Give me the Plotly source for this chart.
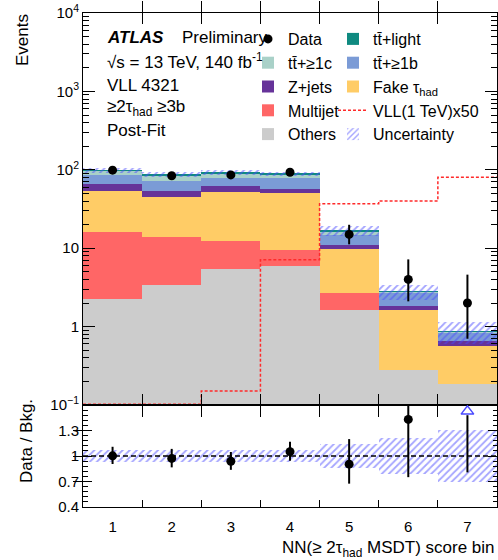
import plotly.graph_objects as go

# ---------------- data ----------------
bins = [1, 2, 3, 4, 5, 6, 7]
bin_labels = ["1", "2", "3", "4", "5", "6", "7"]

others   = [2.28, 3.36, 5.45, 6.00, 1.65, 0.276, 0.187]
multijet = [13.8, 10.4, 6.95, 3.55, 1.06, 0.0, 0.0]
fake_tau = [38.0, 30.7, 39.1, 41.0, 7.02, 1.34, 0.373]
z_jets   = [12.1, 8.5, 10.9, 6.2, 1.17, 0.20, 0.087]
tt_1b    = [19.9, 20.0, 17.3, 21.5, 3.9, 0.93, 0.20]
tt_1c    = [11.5, 12.3, 10.6, 8.7, 1.3, 0.03, 0.01]
tt_light = [1.2, 1.2, 1.3, 1.5, 0.5, 0.02, 0.01]
bkg_rel_unc = [0.07, 0.07, 0.07, 0.07, 0.14, 0.21, 0.31]

data        = [99, 84, 86, 93, 15, 4, 2]
data_err_up = [10.5, 9.7, 9.9, 10.2, 4.9, 3.2, 2.6]
data_err_dn = [9.5, 9.1, 9.3, 9.6, 3.8, 1.9, 1.3]

vll_x50 = [0.102, 0.102, 0.151, 7.14, 37.0, 40.1, 80.4]

y_tickvals = [0.1, 1, 10, 100, 1000, 10000]
y_ticktext = ["10<sup>−1</sup>", "1", "10", "10<sup>2</sup>", "10<sup>3</sup>", "10<sup>4</sup>"]
r_tickvals = [0.4, 0.7, 1.0, 1.3]
r_ticktext = ["0.4", "0.7", "1", "1.3"]
r_range = [0.4, 1.6]
r_minor_step = 0.06

# ---------------- styling ----------------
FONT = "Liberation Sans, Arial, Helvetica, sans-serif"
W, H = 498, 560
ML, MR, MT, MB = 83, 1, 13, 53
PW, PH = W - ML - MR, H - MT - MB


def px(x):
    return (x - ML) / PW


def py(y):
    return (H - MB - y) / PH


split = py(405)
HATCH = "#4a4aff"
PATTERN = dict(shape="/", fgcolor=HATCH, bgcolor="rgba(0,0,0,0)", size=5, solidity=0.35)

fig = go.Figure()

stack = [
    ("Others", others, "#cccccc", "legend", 5),
    ("Multijet", multijet, "#ff6666", "legend", 4),
    ("Fake τ<sub>had</sub>", fake_tau, "#ffcc66", "legend2", 3),
    ("Z+jets", z_jets, "#663399", "legend", 3),
    ("tt̄+≥1b", tt_1b, "#7b9bd6", "legend2", 2),
    ("tt̄+≥1c", tt_1c, "#a9d1c8", "legend", 2),
    ("tt̄+light", tt_light, "#0f8a80", "legend2", 1),
]
floor = 1e-3
base = [floor] * len(bins)
for name, vals, color, lg, rank in stack:
    fig.add_trace(go.Bar(
        x=bins, y=vals, base=list(base), width=1, name=name,
        marker=dict(color=color, line=dict(width=0)),
        legend=lg, legendrank=rank, xaxis="x", yaxis="y"))
    base = [b + v for b, v in zip(base, vals)]

total = [sum(c) for c in zip(others, multijet, fake_tau, z_jets, tt_1b, tt_1c, tt_light)]

# uncertainty band (main)
fig.add_trace(go.Bar(
    x=bins, y=[2 * t * e for t, e in zip(total, bkg_rel_unc)],
    base=[t * (1 - e) for t, e in zip(total, bkg_rel_unc)], width=1,
    name="Uncertainty", legend="legend2", legendrank=5,
    marker=dict(color="rgba(0,0,0,0)", line=dict(width=0), pattern=PATTERN),
    xaxis="x", yaxis="y"))

# VLL signal (step)
edges = [b - 0.5 for b in bins] + [bins[-1] + 0.5]
fig.add_trace(go.Scatter(
    x=edges, y=vll_x50 + [vll_x50[-1]], mode="lines", line_shape="hv",
    line=dict(color="#ff2a2a", width=1.5, dash="3px,2px"),
    name="VLL(1 TeV)x50", legend="legend2", legendrank=4,
    xaxis="x", yaxis="y"))

# data
fig.add_trace(go.Scatter(
    x=bins, y=data, mode="markers", name="Data", legend="legend", legendrank=1,
    marker=dict(color="black", size=9),
    error_y=dict(type="data", symmetric=False, array=data_err_up,
                 arrayminus=data_err_dn, color="black", thickness=2, width=0),
    xaxis="x", yaxis="y"))

# ---------------- ratio panel ----------------
fig.add_trace(go.Bar(
    x=bins, y=[2 * e for e in bkg_rel_unc], base=[1 - e for e in bkg_rel_unc], width=1,
    showlegend=False,
    marker=dict(color="rgba(0,0,0,0)", line=dict(width=0), pattern=PATTERN),
    xaxis="x2", yaxis="y2"))

ratio = [d / t for d, t in zip(data, total)]
r_up = [u / t for u, t in zip(data_err_up, total)]
r_dn = [u / t for u, t in zip(data_err_dn, total)]
inside = [i for i, r in enumerate(ratio) if r <= r_range[1]]
over = [i for i, r in enumerate(ratio) if r > r_range[1]]

fig.add_trace(go.Scatter(
    x=[bins[i] for i in inside], y=[ratio[i] for i in inside], mode="markers",
    showlegend=False, marker=dict(color="black", size=9),
    error_y=dict(type="data", symmetric=False, array=[r_up[i] for i in inside],
                 arrayminus=[r_dn[i] for i in inside], color="black", thickness=2, width=0),
    xaxis="x2", yaxis="y2"))

# off-scale points: arrow at the top of the ratio panel
arrow_y = r_range[1] - 0.075
fig.add_trace(go.Scatter(
    x=[bins[i] for i in over], y=[arrow_y - 0.045] * len(over), mode="markers",
    showlegend=False, marker=dict(color="rgba(0,0,0,0)", size=1),
    error_y=dict(type="data", symmetric=False, array=[0] * len(over),
                 arrayminus=[arrow_y - 0.045 - (ratio[i] - r_dn[i]) for i in over],
                 color="black", thickness=2, width=0),
    xaxis="x2", yaxis="y2"))
fig.add_trace(go.Scatter(
    x=[bins[i] for i in over], y=[arrow_y] * len(over), mode="markers",
    showlegend=False,
    marker=dict(symbol="triangle-up-open", color=HATCH, size=11, line=dict(width=1.5)),
    xaxis="x2", yaxis="y2"))

fig.add_shape(type="line", xref="x2 domain", yref="y2", x0=0, x1=1, y0=1, y1=1,
              line=dict(color="black", width=1.5, dash="5px,3px"), layer="above")

# empty traces so that the overlay (minor-tick / label) axes get drawn
for xa, ya in [("x", "y3"), ("x3", "y2"), ("x2", "y4")]:
    fig.add_trace(go.Scatter(x=[], y=[], xaxis=xa, yaxis=ya, showlegend=False,
                             hoverinfo="skip"))

# ---------------- axes ----------------
minor_log = [m * 10.0 ** e for e in range(-1, 4) for m in range(2, 10)]
n_minor = int(round((r_range[1] - r_range[0]) / r_minor_step))
minor_ratio = [round(r_range[0] + k * r_minor_step, 4) for k in range(n_minor + 1)]

axis_common = dict(showline=True, linecolor="black", linewidth=1, mirror="allticks",
                   showgrid=False, zeroline=False, ticks="inside", tickcolor="black",
                   tickwidth=1, layer="above traces",
                   tickfont=dict(family=FONT, size=15, color="black"))

fig.update_layout(
    width=W, height=H,
    margin=dict(l=ML, r=MR, t=MT, b=MB),
    paper_bgcolor="white", plot_bgcolor="white",
    barmode="overlay", bargap=0,
    font=dict(family=FONT, size=16, color="black"),
    xaxis=dict(axis_common, domain=[0, 1], anchor="y", range=[0.5, 7.5],
               tickmode="array", tickvals=edges[1:-1], ticklen=11,
               showticklabels=False),
    yaxis=dict(axis_common, domain=[split, 1], anchor="x", type="log", range=[-1, 4],
               tickmode="array", tickvals=y_tickvals, ticktext=y_ticktext, ticklen=12),
    yaxis3=dict(axis_common, overlaying="y", anchor="x", side="left", type="log",
                range=[-1, 4], tickmode="array", tickvals=minor_log, ticklen=6,
                showticklabels=False),
    xaxis2=dict(axis_common, domain=[0, 1], anchor="y2", range=[0.5, 7.5],
                mirror=True, tickmode="array", tickvals=edges[1:-1], ticklen=7,
                showticklabels=False),
    xaxis3=dict(axis_common, overlaying="x2", anchor="y2", side="bottom", range=[0.5, 7.5],
                mirror=False, tickmode="array", tickvals=bins, ticktext=bin_labels,
                ticks="", ticklabelstandoff=6),
    yaxis2=dict(axis_common, domain=[0, split], anchor="x2", range=r_range,
                tickmode="array", tickvals=r_tickvals, ticktext=r_ticktext, ticklen=9),
    yaxis4=dict(axis_common, overlaying="y2", anchor="x2", side="left", range=r_range,
                tickmode="array", tickvals=minor_ratio, ticklen=4.5,
                showticklabels=False),
    legend=dict(x=px(248), y=py(22), xanchor="left", yanchor="top",
                orientation="v", bgcolor="rgba(0,0,0,0)", tracegroupgap=0,
                font=dict(family=FONT, size=16, color="black")),
    legend2=dict(x=px(333), y=py(22), xanchor="left", yanchor="top",
                 orientation="v", bgcolor="rgba(0,0,0,0)", tracegroupgap=0,
                 font=dict(family=FONT, size=16, color="black")),
)

ann = dict(xref="paper", yref="paper", showarrow=False,
           font=dict(family=FONT, size=17, color="black"))
texts = [
    ("<b><i>ATLAS</i></b>", 105, 38),
    ("Preliminary", 180, 38),
    ("√s = 13 TeV, 140 fb<sup>-1</sup>", 105, 61),
    ("VLL 4321", 105, 85),
    ("≥2τ<sub>had</sub> ≥3b", 105, 108),
    ("Post-Fit", 105, 130),
]
for t, x, y in texts:
    fig.add_annotation(ann, text=t, x=px(x), y=py(y), xanchor="left", yanchor="middle")

fig.add_annotation(ann, text="Events", textangle=-90, x=px(23), y=py(12),
                   xanchor="center", yanchor="top")
fig.add_annotation(ann, text="Data / Bkg.", textangle=-90, x=px(26), y=py(441),
                   xanchor="center", yanchor="middle")
fig.add_annotation(ann, text="NN(≥ 2τ<sub>had</sub> MSDT) score bin", x=px(497), y=py(536),
                   xanchor="right", yanchor="top")

fig.write_html("out.html")
